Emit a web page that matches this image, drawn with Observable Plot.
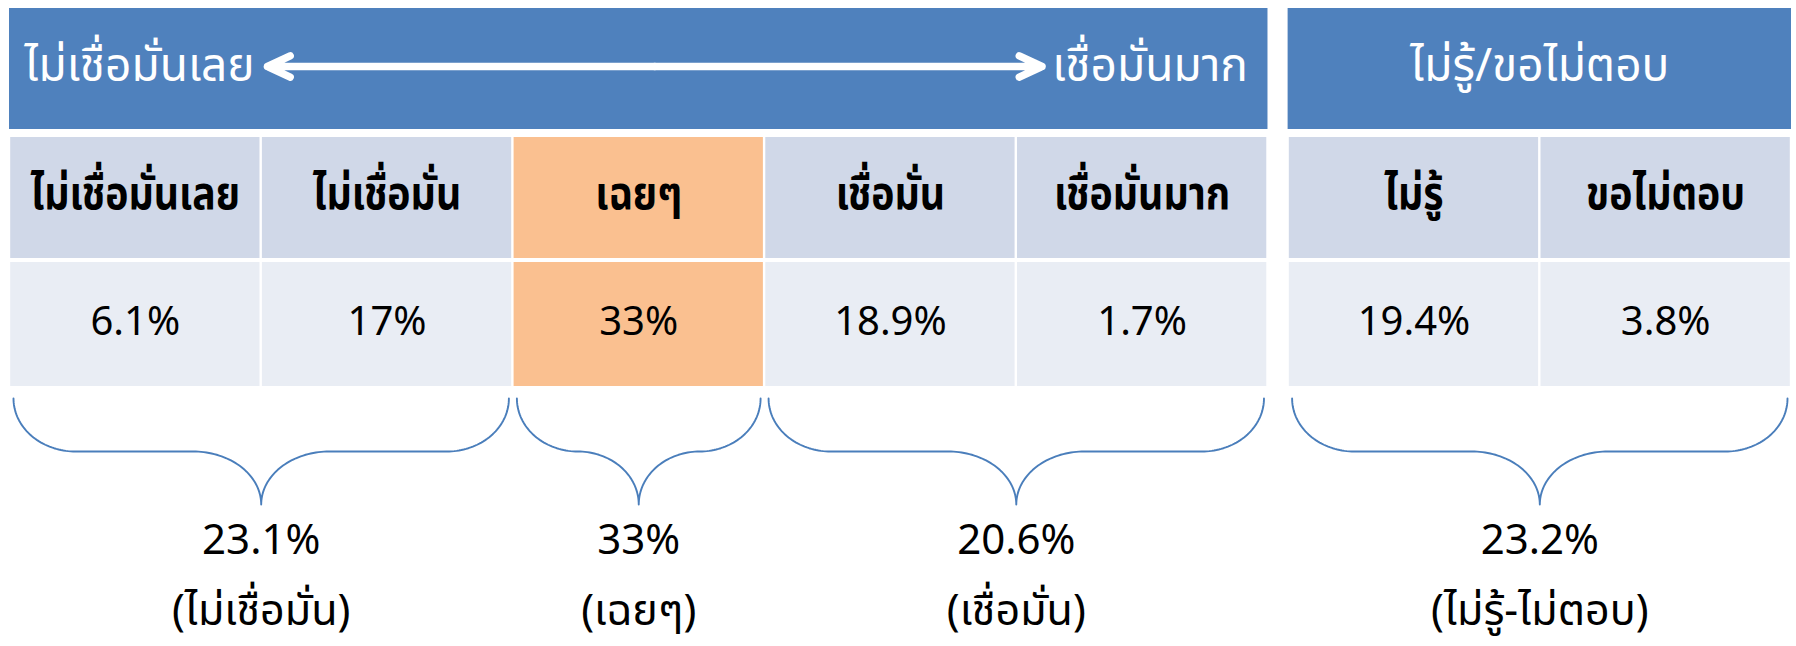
<!DOCTYPE html>
<html><head><meta charset="utf-8">
<script src="https://cdn.jsdelivr.net/npm/d3@7"></script>
<script src="https://cdn.jsdelivr.net/npm/@observablehq/plot@0.6"></script>
<style>
body{margin:0;background:#fff}
svg{display:block}
</style>
</head><body><div id="chart"></div>
<script>
// ---------- data ----------
const categories = ["ไม่เชื่อมั่นเลย", "ไม่เชื่อมั่น", "เฉยๆ", "เชื่อมั่น", "เชื่อมั่นมาก", "ไม่รู้", "ขอไม่ตอบ"];
const values = [6.1, 17, 33, 18.9, 1.7, 19.4, 3.8];
const blocks = ["scale", "scale", "scale", "scale", "scale", "unknown", "unknown"];
const highlighted = "เฉยๆ";
const scaleEnds = ["ไม่เชื่อมั่นเลย", "เชื่อมั่นมาก"];
const unknownTitle = "ไม่รู้/ขอไม่ตอบ";
const groupLabels = ["(ไม่เชื่อมั่น)", "(เฉยๆ)", "(เชื่อมั่น)", "(ไม่รู้-ไม่ตอบ)"];
const groupValues = [23.1, 33, 20.6, 23.2];
const groupStart = [0, 2, 3, 5];
const groupEnd = [1, 2, 4, 6];

// ---------- layout ----------
const W = 1796, H = 646;
const blockGap = 0.08;
const xDomain = [0, 7 + blockGap], xRange = [9, 1791];
const pxPerUnit = (xRange[1] - xRange[0]) / (xDomain[1] - xDomain[0]);
const px = p => p / pxPerUnit;
const colLeft = i => i + (blocks[i] !== blocks[0] ? blockGap : 0);
const ROW = {band: [8, 129], head: [137, 258], val: [262, 386]};
const BRACE = {top: 398, mid: 451, tip: 504};
const FONT = "'Noto Sans Thai', 'Noto Sans', 'Liberation Sans', sans-serif";
const BLUE = "#4F81BD";

const cells = categories.map((c, i) => ({
  cat: c, value: values[i], label: `${values[i]}%`,
  x1: colLeft(i), x2: colLeft(i) + 1, xc: colLeft(i) + 0.5,
  fillHead: c === highlighted ? "#FAC090" : "#D0D8E8",
  fillVal: c === highlighted ? "#FAC090" : "#E9EDF4"
}));

const blockNames = [...new Set(blocks)];
const bands = blockNames.map(b => {
  const idx = blocks.map((v, i) => v === b ? i : -1).filter(i => i >= 0);
  return {block: b, x1: colLeft(idx[0]), x2: colLeft(idx[idx.length - 1]) + 1};
});

const bandStart = [{text: scaleEnds[0], x: bands[0].x1 + px(15)}];
const bandEnd = [{text: scaleEnds[1], x: bands[0].x2 - px(20)}];
const bandMid = [{text: unknownTitle, x: (bands[1].x1 + bands[1].x2) / 2}];

// double-headed arrow between the two scale end labels
const arrowY = 66;
const arrowL = bands[0].x1 + px(258), arrowR = bands[0].x2 - px(226);
const arrowMid = (arrowL + arrowR) / 2;
const arrows = [{x1: arrowMid, x2: arrowL}, {x1: arrowMid, x2: arrowR}];

// braces
const braces = [];
const groups = groupLabels.map((g, k) => {
  const x0 = colLeft(groupStart[k]) + px(4);
  const x1 = colLeft(groupEnd[k]) + 1 - px(4);
  const xm = (x0 + x1) / 2;
  return {k, label: g, value: `${groupValues[k]}%`, x0, x1, xm};
});
for (const g of groups) {
  const half = g.xm - g.x0;
  const r1 = Math.min(px(62), half / 2);
  const r2 = Math.min(px(68), half - r1);
  const h1 = BRACE.mid - BRACE.top, h2 = BRACE.tip - BRACE.mid;
  const n = 40;
  const pts = [];
  for (let j = 0; j <= n; j++) { const t = j / n * Math.PI / 2; pts.push([g.x0 + r1 - r1 * Math.cos(t), BRACE.top + h1 * Math.sin(t)]); }
  for (let j = 0; j <= n; j++) { const t = j / n * Math.PI / 2; pts.push([g.xm - r2 + r2 * Math.sin(t), BRACE.tip - h2 * Math.cos(t)]); }
  for (let j = n; j >= 0; j--) { const t = j / n * Math.PI / 2; pts.push([g.xm + r2 - r2 * Math.sin(t), BRACE.tip - h2 * Math.cos(t)]); }
  for (let j = n; j >= 0; j--) { const t = j / n * Math.PI / 2; pts.push([g.x1 - r1 + r1 * Math.cos(t), BRACE.top + h1 * Math.sin(t)]); }
  for (const p of pts) braces.push({g: g.k, x: p[0], y: p[1]});
}

const bandTextOpts = {x: "x", y: arrowY, text: "text", fill: "white", fontSize: 46, lineAnchor: "middle"};

const chart = Plot.plot({
  width: W, height: H, margin: 0,
  style: {background: "#fff", fontFamily: FONT},
  x: {domain: xDomain, range: xRange, axis: null},
  y: {domain: [0, H], range: [0, H], axis: null},
  marks: [
    Plot.rect(bands, {x1: "x1", x2: "x2", y1: ROW.band[0], y2: ROW.band[1], fill: BLUE}),
    Plot.rect(cells, {x1: "x1", x2: "x2", y1: ROW.head[0], y2: ROW.head[1], fill: "fillHead", insetLeft: 1.2, insetRight: 1.2}),
    Plot.rect(cells, {x1: "x1", x2: "x2", y1: ROW.val[0], y2: ROW.val[1], fill: "fillVal", insetLeft: 1.2, insetRight: 1.2}),
    Plot.text(bandStart, {...bandTextOpts, textAnchor: "start"}),
    Plot.text(bandEnd, {...bandTextOpts, textAnchor: "end"}),
    Plot.text(bandMid, {...bandTextOpts, textAnchor: "middle"}),
    Plot.arrow(arrows, {x1: "x1", x2: "x2", y1: arrowY, y2: arrowY, stroke: "white", strokeWidth: 7.5, headLength: 5, headAngle: 50, strokeLinecap: "round", strokeLinejoin: "round"}),
    Plot.text(cells, {x: "xc", y: 194, text: "cat", fill: "black", fontSize: 40, fontWeight: "bold", lineAnchor: "middle"}),
    Plot.text(cells, {x: "xc", y: 322, text: "label", fill: "black", fontSize: 40, lineAnchor: "middle"}),
    Plot.line(braces, {x: "x", y: "y", z: "g", stroke: "#4A7EBB", strokeWidth: 1.9, curve: "linear"}),
    Plot.text(groups, {x: "xm", y: 540, text: "value", fill: "black", fontSize: 42, lineAnchor: "middle"}),
    Plot.text(groups, {x: "xm", y: 611, text: "label", fill: "black", fontSize: 43, lineAnchor: "middle"})
  ]
});
// stretch the Thai header-row labels vertically to mimic the taller Thai face of the original
chart.querySelectorAll("text").forEach(t => {
  if (t.getAttribute("font-weight") === "bold" || t.parentNode.getAttribute("font-weight") === "bold") {
    const tr = t.getAttribute("transform") || "";
    t.setAttribute("transform", tr + " scale(0.98,1.14)");
  }
});
document.getElementById("chart").append(chart);
</script>
</body></html>
